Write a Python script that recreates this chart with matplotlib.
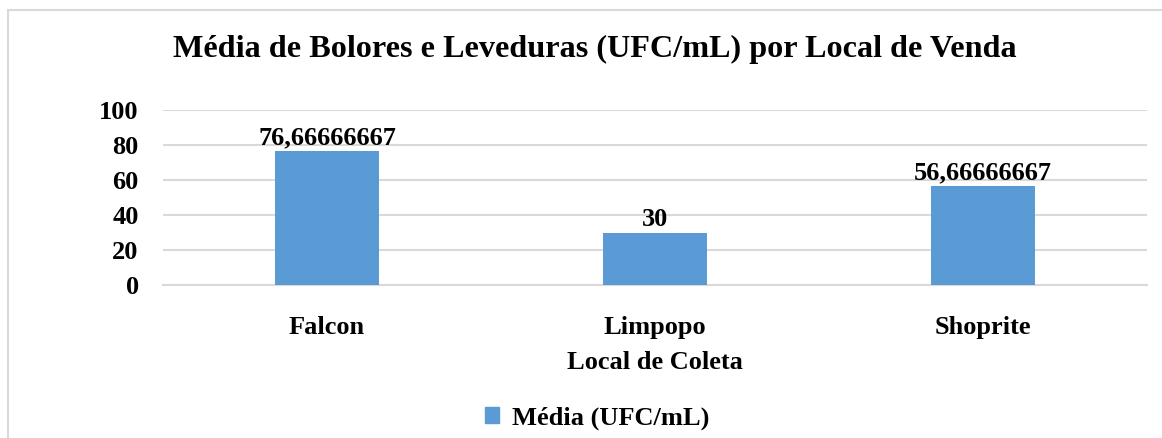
import matplotlib.pyplot as plt
from matplotlib.patches import Rectangle

locais = ["Falcon", "Limpopo", "Shoprite"]
media = [76.66666667, 30, 56.66666667]
rotulos = ["76,66666667", "30", "56,66666667"]
yticks = [0, 20, 40, 60, 80, 100]

plt.rcParams['font.family'] = ['Liberation Serif', 'DejaVu Serif']
plt.rcParams['font.weight'] = 'bold'

fig = plt.figure(figsize=(11.62, 4.38), dpi=100)
# borda do grafico (cortada a direita e embaixo)
fig.patches.append(Rectangle((8/1162, -0.1), 1.2, (438-10)/438 + 0.1, transform=fig.transFigure,
                             fill=False, edgecolor='#d9d9d9', linewidth=1.5))

ax = fig.add_axes([163/1162, 1 - 285/438, (1147-163)/1162, (285-110)/438])
x = range(len(locais))
ax.bar(x, media, width=0.315, color='#5b9bd5', zorder=3)
for i, v in enumerate(media):
    ax.text(i, v + 1.0, rotulos[i], ha='center', va='bottom', fontsize=19, fontweight='bold')

ax.set_xlim(-0.5, 2.5)
ax.set_ylim(0, 100)
ax.set_yticks(yticks)
ax.set_yticklabels([str(t) for t in yticks], fontsize=19, fontweight='bold')
ax.set_xticks(list(x))
ax.set_xticklabels(locais, fontsize=19, fontweight='bold')
ax.tick_params(axis='both', length=0)
ax.tick_params(axis='x', pad=22)
ax.tick_params(axis='y', pad=17.5)
ax.grid(axis='y', color='#d9d9d9', linewidth=1.5, zorder=0)
for s in ['top', 'right', 'left']:
    ax.spines[s].set_visible(False)
ax.spines['bottom'].set_color('#d9d9d9')
ax.spines['bottom'].set_linewidth(1.5)
ax.set_xlabel("Local de Coleta", fontsize=19, fontweight='bold', labelpad=9)

fig.text(0.5115, 1 - 49/438, "Média de Bolores e Leveduras (UFC/mL) por Local de Venda",
         ha='center', va='center', fontsize=23.2, fontweight='bold')

leg = fig.legend([Rectangle((0, 0), 1, 1, color='#5b9bd5')], ["Média (UFC/mL)"],
                 loc='center', bbox_to_anchor=(0.514, 1 - 418/438), frameon=False,
                 prop={'size': 19, 'weight': 'bold'}, handlelength=0.55, handleheight=0.55,
                 handletextpad=0.5)

fig.savefig("out.png", dpi=100)
